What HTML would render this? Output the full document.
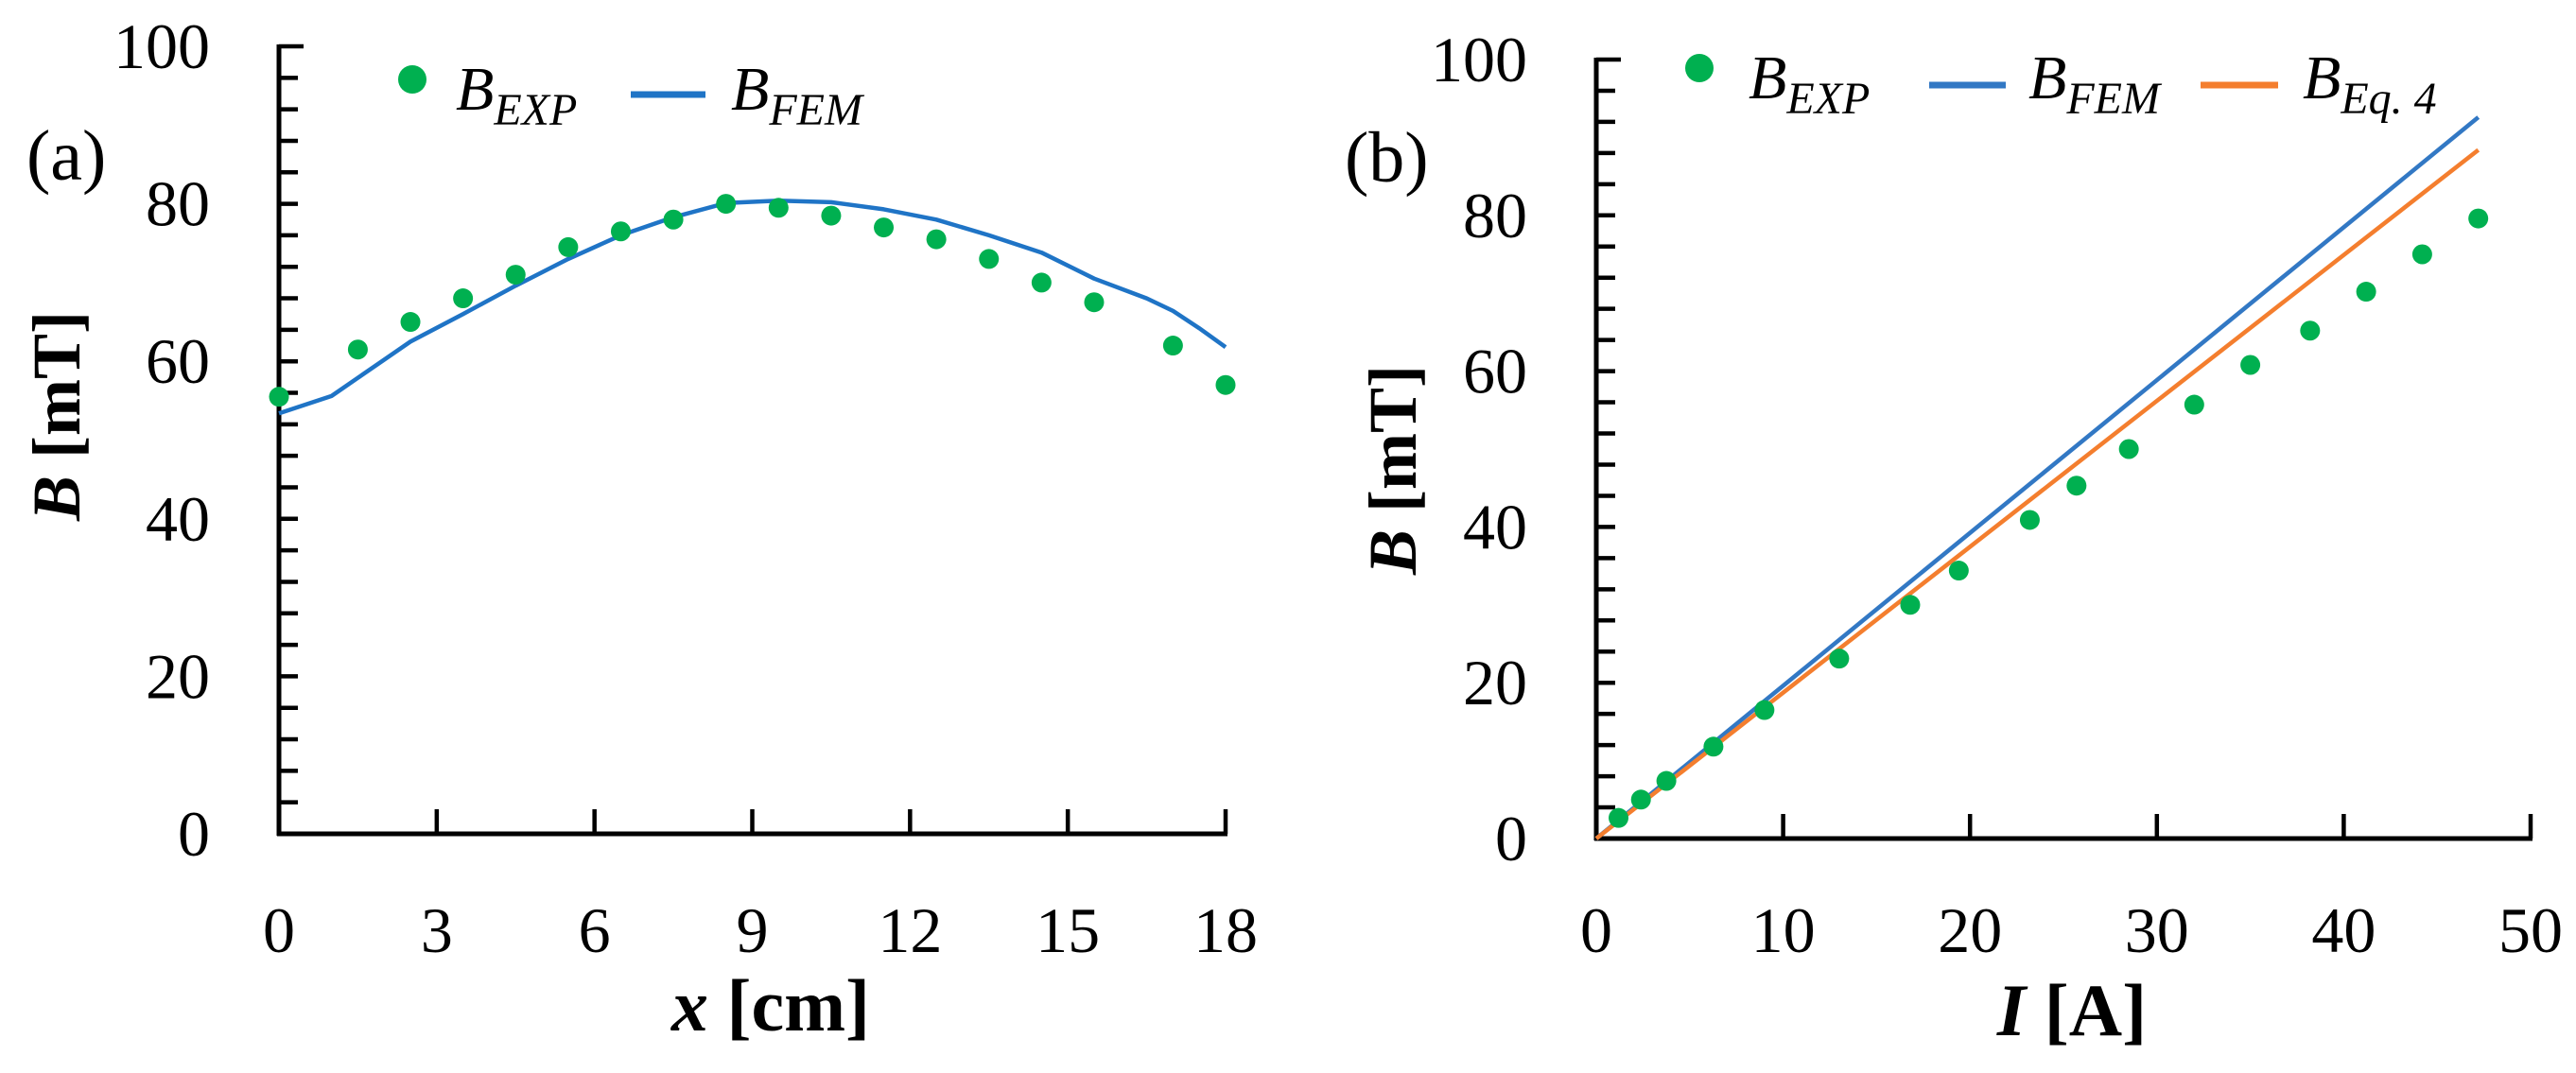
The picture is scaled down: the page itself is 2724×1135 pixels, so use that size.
<!DOCTYPE html>
<html><head><meta charset="utf-8"><style>
html,body{margin:0;padding:0;background:#fff;}
svg{display:block;font-family:"Liberation Serif",serif;}
</style></head><body>
<svg id="c" width="2724" height="1135" viewBox="0 0 2724 1135">
<g id="pa"></g>
<g id="pb"></g>
</svg>
<script>
// Panel (a) data
const aExpX = [0,1.5,2.5,3.5,4.5,5.5,6.5,7.5,8.5,9.5,10.5,11.5,12.5,13.5,14.5,15.5,17,18];
const aExpB = [55.5,61.5,65,68,71,74.5,76.5,78,80,79.5,78.5,77,75.5,73,70,67.5,62,57];
const aFemX = [0,1,1.5,2.5,3.5,4.5,5.5,6.5,7.5,8.5,9.5,10.5,11.5,12.5,13.5,14.5,15.5,16.5,17,17.5,18];
const aFemB = [53.4,55.6,57.9,62.5,66,69.6,73,76,78.3,80.1,80.4,80.2,79.3,78,76,73.8,70.5,68,66.4,64.2,61.8];
const aXTicks = [0,3,6,9,12,15,18];
const aYTicks = [0,20,40,60,80,100];
// Panel (b) data
const bExpI = [1.19,2.39,3.75,6.27,9.0,13.0,16.8,19.4,23.2,25.7,28.5,32.0,35.0,38.2,41.2,44.2,47.2];
const bExpB = [2.65,5.0,7.4,11.8,16.5,23.1,30.0,34.4,40.9,45.3,50.0,55.7,60.8,65.2,70.2,75.0,79.6];
const bFemI = [0,47.2];
const bFemB = [0,92.6];
const bEqI = [0,47.2];
const bEqB = [0,88.4];
const bXTicks = [0,10,20,30,40,50];
const bYTicks = [0,20,40,60,80,100];

const NS="http://www.w3.org/2000/svg";
function mk(parent,tag,attrs,text){const e=document.createElementNS(NS,tag);for(const k in attrs)e.setAttribute(k,attrs[k]);if(text!==undefined)e.textContent=text;parent.appendChild(e);return e;}

function panel(g,cfg){
  const sx=v=>cfg.x0+(v-cfg.xmin)/(cfg.xmax-cfg.xmin)*(cfg.x1-cfg.x0);
  const sy=v=>cfg.y0+(v-cfg.ymin)/(cfg.ymax-cfg.ymin)*(cfg.y1-cfg.y0);
  const ya=mk(g,'line',{x1:sx(cfg.xmin),y1:sy(cfg.ymin)+2,x2:sx(cfg.xmin),y2:sy(cfg.ymax)-2,stroke:'#000','stroke-width':5});
  
  
  const xa=mk(g,'line',{x1:sx(cfg.xmin)-2,y1:sy(cfg.ymin),x2:sx(cfg.xmax)+2,y2:sy(cfg.ymin),stroke:'#000','stroke-width':5});
  
  
  for(let v=cfg.ymin;v<=cfg.ymax+0.001;v+=4){
    const t=mk(g,'line',{x1:sx(cfg.xmin),y1:sy(v),x2:sx(cfg.xmin)+(v===cfg.ymax?26:20),y2:sy(v),stroke:'#000','stroke-width':4.5});
    
    
  }
  cfg.yTicks.forEach(v=>{
    const t=mk(g,'text',{x:sx(cfg.xmin)-73,y:sy(v)+23,'text-anchor':'end','font-size':68,fill:'#000'},String(v));
    
    
  });
  cfg.xTicks.forEach(v=>{
    if(v!==cfg.xmin){
      const tk=mk(g,'line',{x1:sx(v),y1:sy(cfg.ymin),x2:sx(v),y2:sy(cfg.ymin)-26,stroke:'#000','stroke-width':4.5});
      
      
    }
    const t=mk(g,'text',{x:sx(v),y:cfg.xLabY,'text-anchor':'middle','font-size':68,fill:'#000'},String(v));
    
    
  });
  cfg.lines.forEach(L=>{
    const d=L.xs.map((x,i)=>(i?'L':'M')+sx(x).toFixed(1)+','+sy(L.ys[i]).toFixed(1)).join(' ');
    const p=mk(g,'path',{d:d,fill:'none',stroke:L.color,'stroke-width':4.5,'stroke-linejoin':'round'});
    
    
  });
  cfg.pxs.forEach((x,i)=>{
    const c=mk(g,'circle',{cx:sx(x),cy:sy(cfg.pys[i]),r:10.5,fill:'#00b050'});
    
    
  });
}

panel(document.getElementById('pa'),{x0:295,x1:1296,xmin:0,xmax:18,y0:882,y1:49,ymin:0,ymax:100,
  xTicks:aXTicks,yTicks:aYTicks,xLabY:1007,pxs:aExpX,pys:aExpB,
  lines:[{xs:aFemX,ys:aFemB,color:'#1f74c6',name:'fem-line'}]});
panel(document.getElementById('pb'),{x0:1688,x1:2676,xmin:0,xmax:50,y0:887,y1:63,ymin:0,ymax:100,
  xTicks:bXTicks,yTicks:bYTicks,xLabY:1007,pxs:bExpI,pys:bExpB,
  lines:[{xs:bFemI,ys:bFemB,color:'#3278c4',name:'fem-line'},{xs:bEqI,ys:bEqB,color:'#f47e2e',name:'eq4-line'}]});
</script>
<script>
(function(){
const svg=document.getElementById('c');
svg.insertAdjacentHTML('beforeend',`
<text x="28" y="190" font-size="76">(a)</text>
<text x="1422" y="192" font-size="76">(b)</text>
<text x="815" y="1090" font-size="78" font-weight="bold" text-anchor="middle"><tspan font-style="italic">x</tspan> [cm]</text>
<text x="2191" y="1095" font-size="78" font-weight="bold" text-anchor="middle"><tspan font-style="italic">I</tspan> [A]</text>
<text transform="translate(84,440) rotate(-90)" font-size="72" font-weight="bold" text-anchor="middle"><tspan font-style="italic">B</tspan> [mT]</text>
<text transform="translate(1497,497) rotate(-90)" font-size="72" font-weight="bold" text-anchor="middle"><tspan font-style="italic">B</tspan> [mT]</text>
<g>
 <circle cx="436" cy="84" r="15" fill="#00b050"/>
 <text x="482" y="116" font-size="66" font-style="italic">B<tspan font-size="48" dy="16">EXP</tspan></text>
 <line x1="667" y1="100" x2="746" y2="100" stroke="#1f74c6" stroke-width="7"/>
 <text x="773" y="116" font-size="66" font-style="italic">B<tspan font-size="48" dy="16">FEM</tspan></text>
</g>
<g>
 <circle cx="1797" cy="72" r="15" fill="#00b050"/>
 <text x="1849" y="104" font-size="66" font-style="italic">B<tspan font-size="48" dy="16">EXP</tspan></text>
 <line x1="2040" y1="90" x2="2121" y2="90" stroke="#3278c4" stroke-width="7"/>
 <text x="2145" y="104" font-size="66" font-style="italic">B<tspan font-size="48" dy="16">FEM</tspan></text>
 <line x1="2327" y1="90" x2="2409" y2="90" stroke="#f47e2e" stroke-width="7"/>
 <text x="2435" y="104" font-size="66" font-style="italic">B<tspan font-size="48" dy="16">Eq. 4</tspan></text>
</g>`);
})();
</script>
</body></html>
